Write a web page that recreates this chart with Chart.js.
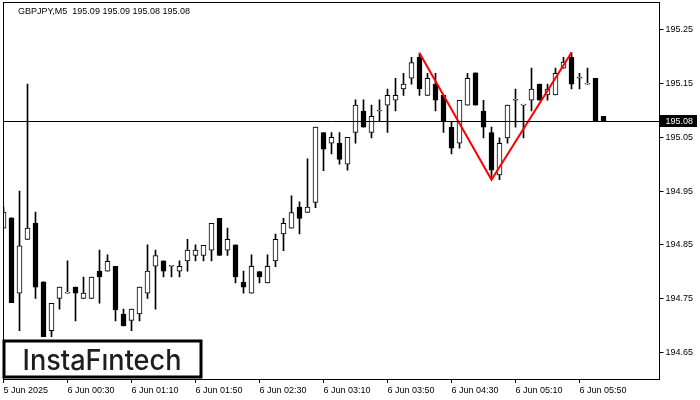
<!DOCTYPE html>
<html lang="en">
<head>
  <meta charset="UTF-8" />
  <title>GBPJPY,M5</title>
  <script src="https://cdn.jsdelivr.net/npm/chart.js"></script>
  <style>
    html, body { margin: 0; padding: 0; background: #fff; }
  </style>
</head>
<body>
  <canvas id="chart" width="700" height="400"></canvas>

  <script>
    const titleText = 'GBPJPY,M5  195.09 195.09 195.08 195.08';

    // 5 minute candles, 5 Jun 23:50 -> 6 Jun 06:05
    const opens = [
      194.881, 194.900, 194.760, 194.860, 194.890, 194.781, 194.690, 194.750, 194.760, 194.771,
      194.750, 194.750, 194.801, 194.801, 194.810, 194.721, 194.709, 194.721, 194.760, 194.810,
      194.820, 194.810, 194.801, 194.820, 194.830, 194.830, 194.840, 194.899, 194.840, 194.850,
      194.780, 194.760, 194.800, 194.779, 194.820, 194.870, 194.881, 194.920, 194.910, 194.929,
      195.059, 195.039, 195.039, 195.000, 195.059, 195.099, 195.059, 195.099, 195.110, 195.119,
      195.140, 195.160, 195.199, 195.128, 195.149, 195.128, 195.069, 195.039, 195.110, 195.170,
      195.099, 195.059, 194.980, 195.049, 195.119, 195.110, 195.119, 195.149, 195.129, 195.129,
      195.179, 195.199, 195.160, 195.149, 195.160, 195.089
    ];
    const highs = [
      194.920, 194.900, 194.950, 195.149, 194.911, 194.781, 194.741, 194.771, 194.820, 194.771,
      194.790, 194.790, 194.840, 194.831, 194.810, 194.730, 194.730, 194.771, 194.850, 194.840,
      194.820, 194.810, 194.820, 194.860, 194.850, 194.849, 194.890, 194.899, 194.881, 194.850,
      194.801, 194.831, 194.800, 194.831, 194.870, 194.899, 194.941, 194.930, 195.010, 195.069,
      195.059, 195.059, 195.059, 195.050, 195.120, 195.120, 195.110, 195.120, 195.140, 195.160,
      195.169, 195.199, 195.207, 195.169, 195.169, 195.128, 195.079, 195.119, 195.169, 195.170,
      195.119, 195.069, 195.049, 195.110, 195.140, 195.110, 195.179, 195.149, 195.149, 195.179,
      195.199, 195.208, 195.169, 195.179, 195.160, 195.089
    ];
    const lows = [
      194.881, 194.742, 194.690, 194.860, 194.750, 194.679, 194.679, 194.730, 194.760, 194.708,
      194.750, 194.750, 194.741, 194.801, 194.708, 194.699, 194.690, 194.708, 194.750, 194.730,
      194.790, 194.790, 194.790, 194.801, 194.820, 194.820, 194.820, 194.830, 194.830, 194.779,
      194.760, 194.760, 194.779, 194.779, 194.809, 194.839, 194.881, 194.870, 194.910, 194.919,
      194.988, 195.019, 195.000, 194.989, 195.039, 195.069, 195.049, 195.079, 195.059, 195.099,
      195.128, 195.149, 195.128, 195.128, 195.099, 195.059, 195.019, 195.030, 195.110, 195.110,
      195.049, 194.974, 194.971, 195.039, 195.069, 195.049, 195.099, 195.119, 195.119, 195.129,
      195.179, 195.140, 195.140, 195.149, 195.081, 195.081
    ];
    const closes = [
      194.911, 194.742, 194.848, 194.881, 194.771, 194.679, 194.741, 194.771, 194.760, 194.760,
      194.760, 194.790, 194.790, 194.819, 194.729, 194.699, 194.730, 194.771, 194.801, 194.830,
      194.801, 194.810, 194.810, 194.840, 194.840, 194.849, 194.890, 194.830, 194.860, 194.790,
      194.771, 194.810, 194.790, 194.810, 194.860, 194.890, 194.910, 194.899, 194.920, 195.069,
      195.028, 195.050, 195.009, 195.050, 195.110, 195.069, 195.089, 195.099, 195.128, 195.128,
      195.149, 195.189, 195.140, 195.160, 195.119, 195.081, 195.030, 195.119, 195.160, 195.110,
      195.069, 194.989, 195.039, 195.110, 195.119, 195.110, 195.140, 195.119, 195.140, 195.169,
      195.190, 195.149, 195.160, 195.149, 195.081, 195.081
    ];

    const tickIdx = [0, 8, 16, 24, 32, 40, 48, 56, 64, 72];
    const tickLabels = ['5 Jun 2025', '6 Jun 00:30', '6 Jun 01:10', '6 Jun 01:50', '6 Jun 02:30',
      '6 Jun 03:10', '6 Jun 03:50', '6 Jun 04:30', '6 Jun 05:10', '6 Jun 05:50'];
    const priceTicks = [194.65, 194.75, 194.85, 194.95, 195.05, 195.15, 195.25];
    const lastPrice = 195.08;

    // double top
    const patternIdx = [52, 61, 71];
    const patternVals = [195.207, 194.971, 195.208];

    const emptySlots = 7; // chart shift on the right

    // categories: one per 5 minutes
    const slots = [];
    for (let i = 0; i < opens.length + emptySlots; i++) {
      const m = (23 * 60 + 50 + i * 5) % (24 * 60);
      slots.push(String(Math.floor(m / 60)).padStart(2, '0') + ':' + String(m % 60).padStart(2, '0'));
    }

    const wicks = opens.map((o, i) => [lows[i], highs[i]]);
    const bodies = opens.map((o, i) => [Math.min(o, closes[i]), Math.max(o, closes[i])]);
    const bodyColors = opens.map((o, i) => closes[i] >= o ? '#ffffff' : '#000000');
    const pattern = slots.map(() => null);
    patternIdx.forEach((k, j) => { pattern[k] = patternVals[j]; });

    const FONT = '"Liberation Sans", Arial, sans-serif';
    Chart.defaults.font.family = FONT;
    Chart.defaults.font.size = 9;
    Chart.defaults.color = '#000';

    const mtDecor = {
      id: 'mtDecor',
      afterDraw(chart) {
        const ctx = chart.ctx;
        const a = chart.chartArea;
        const y = chart.scales.y;
        ctx.save();

        // frame
        ctx.strokeStyle = '#000';
        ctx.lineWidth = 1;
        ctx.strokeRect(a.left, a.top + 0.5, a.right - a.left, a.bottom - a.top);

        // last price line + label
        const py = Math.round(y.getPixelForValue(lastPrice)) + 0.5;
        ctx.beginPath();
        ctx.moveTo(a.left, py);
        ctx.lineTo(a.right, py);
        ctx.stroke();
        ctx.fillStyle = '#000';
        ctx.fillRect(a.right + 0.5, py - 6.5, 37, 12);
        ctx.fillStyle = '#fff';
        ctx.font = '9px ' + FONT;
        ctx.textBaseline = 'middle';
        ctx.textAlign = 'left';
        ctx.fillText(lastPrice.toFixed(2), a.right + 6, py);

        // title
        ctx.fillStyle = '#000';
        ctx.textBaseline = 'alphabetic';
        ctx.fillText(titleText, 18, 14);

        // logo
        ctx.fillStyle = '#fff';
        ctx.fillRect(3, 340, 199, 38);
        ctx.lineWidth = 3;
        ctx.strokeStyle = '#000';
        ctx.strokeRect(4, 341, 197, 36);
        ctx.font = '500 28px Inter, "Noto Sans", sans-serif';
        const logo = 'InstaFıntech';
        const w = ctx.measureText(logo).width;
        ctx.translate(22.5, 369.5);
        ctx.scale(159 / w, 1);
        ctx.fillStyle = '#1e1e1e';
        ctx.fillText(logo, 0, 0);

        ctx.restore();
      }
    };

    new Chart(document.getElementById('chart'), {
      type: 'bar',
      data: {
        labels: slots,
        datasets: [
          {
            type: 'line',
            data: pattern,
            borderColor: '#ff0000',
            borderWidth: 2,
            pointRadius: 0,
            spanGaps: true,
            tension: 0,
            order: 0
          },
          {
            data: bodies,
            backgroundColor: bodyColors,
            borderColor: '#000',
            borderWidth: 1,
            borderSkipped: false,
            barThickness: 5,
            minBarLength: 1,
            grouped: false,
            order: 1
          },
          {
            data: wicks,
            backgroundColor: '#000',
            borderWidth: 0,
            barThickness: 1,
            minBarLength: 1,
            grouped: false,
            order: 2
          }
        ]
      },
      options: {
        responsive: false,
        animation: false,
        devicePixelRatio: 1,
        layout: { padding: { left: 3.5, top: 2, right: 0, bottom: 0 } },
        plugins: {
          legend: { display: false },
          tooltip: { enabled: false }
        },
        scales: {
          x: {
            type: 'category',
            offset: false,
            border: { display: false },
            grid: {
              offset: false,
              drawOnChartArea: false,
              tickLength: 4,
              color: c => tickIdx.includes(c.index) ? '#000' : 'rgba(0,0,0,0)'
            },
            ticks: {
              autoSkip: false,
              maxRotation: 0,
              align: 'start',
              padding: 2,
              callback: (v, i) => {
                const k = tickIdx.indexOf(i);
                return k >= 0 ? tickLabels[k] : '';
              }
            },
            afterFit: s => { s.height = 21; s.paddingLeft = 0; s.paddingRight = 0; }
          },
          y: {
            position: 'right',
            min: 194.6,
            max: 195.302,
            border: { display: false },
            grid: { drawOnChartArea: false, tickLength: 4, color: '#000' },
            ticks: {
              padding: 2,
              callback: v => Number(v).toFixed(2)
            },
            afterBuildTicks: s => { s.ticks = priceTicks.map(v => ({ value: v })); },
            afterFit: s => { s.width = 40.5; s.paddingTop = 0; s.paddingBottom = 0; }
          }
        }
      },
      plugins: [mtDecor]
    });
  </script>
</body>
</html>
